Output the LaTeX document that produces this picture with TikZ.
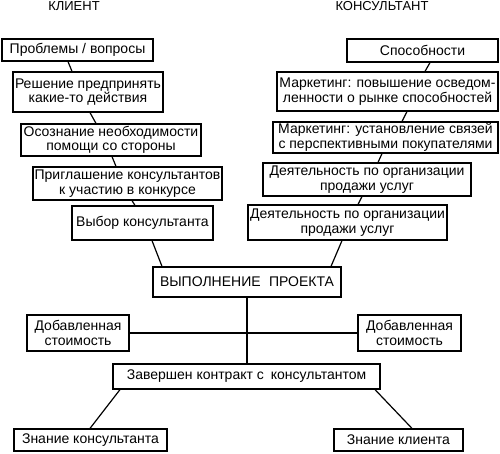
\documentclass[tikz,border=0pt]{standalone}
\usepackage{fontspec}
\setmainfont{Liberation Sans}
\begin{document}
\begin{tikzpicture}[x=1pt,y=-1pt,
  box/.style={draw, line width=1.2pt, inner sep=0pt, align=center,
    font=\fontsize{14}{14.5}\selectfont},
  title/.style={inner sep=0pt, anchor=base, font=\fontsize{13}{14}\selectfont},
  link/.style={line width=1.2pt}]
\useasboundingbox (0,0) rectangle (500,454);
\node[title] (tl) at (74,10.5) {КЛИЕНТ};
\node[title] (tr) at (382,10.5) {КОНСУЛЬТАНТ};
% left column
\node[box, minimum width=151pt, minimum height=22pt] (L1) at (77.5,50) {Проблемы / вопросы};
\node[box, minimum width=150pt, minimum height=40pt] (L2) at (88,92) {Решение предпринять\\какие-то действия};
\node[box, minimum width=180pt, minimum height=32pt] (L3) at (111,140) {Осознание необходимости\\помощи со стороны};
\node[box, minimum width=189pt, minimum height=33pt] (L4) at (127.5,183.5) {Приглашение консультантов\\к участию в конкурсе};
\node[box, minimum width=141pt, minimum height=34pt] (L5) at (142.5,223) {Выбор консультанта};
% right column
\node[box, minimum width=151pt, minimum height=23pt] (R1) at (422.5,50.5) {Способности};
\node[box, minimum width=221pt, minimum height=39pt] (R2) at (387.5,91.5) {Маркетинг: повышение осведом-\\ленности о рынке способностей};
\node[box, minimum width=225pt, minimum height=31pt] (R3) at (385.5,137.5) {Маркетинг: установление связей\\с перспективными покупателями};
\node[box, minimum width=208pt, minimum height=33pt] (R4) at (367,179.5) {Деятельность по организации\\продажи услуг};
\node[box, minimum width=199pt, minimum height=35pt] (R5) at (347.5,222.5) {Деятельность по организации\\продажи услуг};
% center
\node[box, minimum width=188pt, minimum height=30pt] (C) at (247,282) {ВЫПОЛНЕНИЕ\hspace{0.6em}ПРОЕКТА};
\node[box, minimum width=102pt, minimum height=36pt] (A1) at (78,333) {Добавленная\\стоимость};
\node[box, minimum width=103pt, minimum height=36pt] (A2) at (409.5,333) {Добавленная\\стоимость};
\node[box, minimum width=267pt, minimum height=25pt] (Z) at (246.5,376.5) {Завершен контракт с\hspace{0.5em}консультантом};
\node[box, minimum width=153pt, minimum height=22pt] (K1) at (90.5,440) {Знание консультанта};
\node[box, minimum width=129pt, minimum height=22pt] (K2) at (398.5,440) {Знание клиента};
% connectors
\draw[link] ([xshift=-9.5pt]L1.south) -- ([xshift=-16pt]L2.north);
\draw[link] ([xshift=2pt]L2.south) -- ([xshift=-15pt]L3.north);
\draw[link] ([xshift=1pt]L3.south) -- ([xshift=-11.5pt]L4.north);
\draw[link] ([xshift=4.5pt]L4.south) -- ([xshift=-7.5pt]L5.north);
\draw[link] ([xshift=9.5pt]L5.south) -- ([xshift=-85pt]C.north);
\draw[link] ([xshift=7.5pt]R1.south) -- ([xshift=37.5pt]R2.north);
\draw[link] ([xshift=19.5pt]R2.south) -- ([xshift=16.5pt]R3.north);
\draw[link] ([xshift=-3.5pt]R3.south) -- ([xshift=11pt]R4.north);
\draw[link] ([xshift=-5pt]R4.south) -- ([xshift=10.5pt]R5.north);
\draw[link] ([xshift=-5.5pt]R5.south) -- ([xshift=84pt]C.north);
\draw[link] (C.south) -- (C.south |- Z.north);
\draw[link] (A1.east) -- (A2.west);
\draw[link] ([xshift=-126.5pt]Z.south) -- ([xshift=-0.5pt]K1.north);
\draw[link] ([xshift=128.5pt]Z.south) -- ([xshift=13.5pt]K2.north);
\end{tikzpicture}
\end{document}
